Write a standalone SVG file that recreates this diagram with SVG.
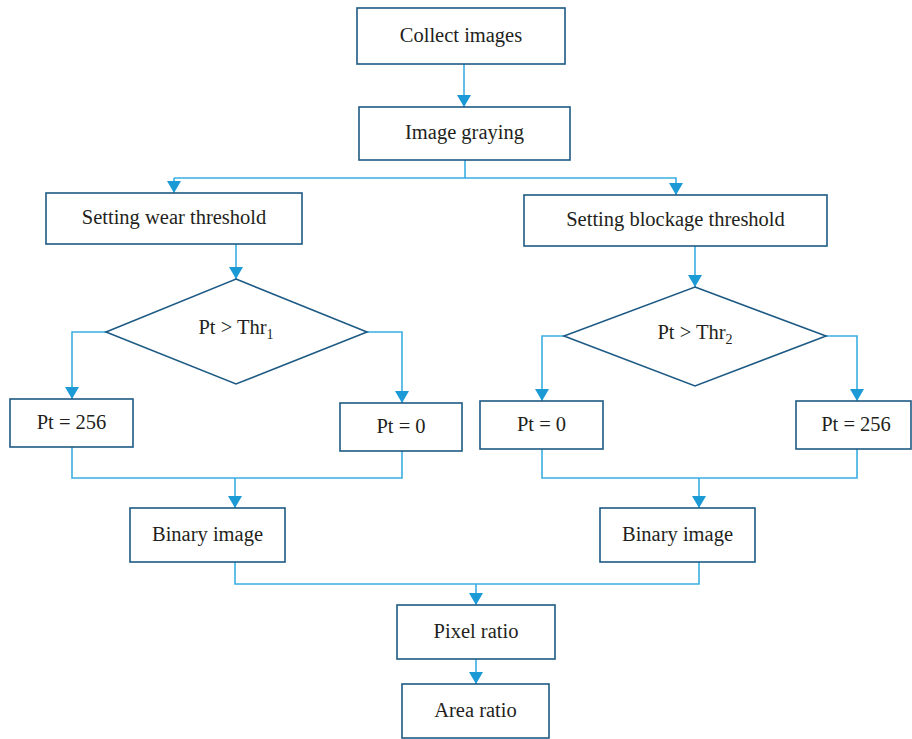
<svg xmlns="http://www.w3.org/2000/svg" width="912" height="739" viewBox="0 0 912 739">
<defs>
<marker id="ah" markerWidth="12" markerHeight="14" refX="12" refY="7" orient="auto" markerUnits="userSpaceOnUse" viewBox="0 0 12 14">
<path d="M0,0 L12,7 L0,14 Z" fill="#1c9ad6"/>
</marker>
<style>
.box{fill:#fff;stroke:#1d5a84;stroke-width:1.6}
.t{font-family:"Liberation Serif","Times New Roman",serif;font-size:20.5px;fill:#231f20;text-anchor:middle}
.c{fill:none;stroke:#3aaee2;stroke-width:1.6}
.a{fill:none;stroke:#3aaee2;stroke-width:1.6;marker-end:url(#ah)}
</style>
</defs>
<rect width="912" height="739" fill="#fff"/>
<g id="connectors">
<line class="a" x1="464" y1="64" x2="464" y2="107"/>
<polyline class="c" points="465,160 465,178 174,178"/>
<polyline class="a" points="174,178 174,193"/>
<polyline class="a" points="465,178 676,178 676,195"/>
<line class="a" x1="236" y1="244" x2="236" y2="279"/>
<polyline class="a" points="106,332 72,332 72,399"/>
<polyline class="a" points="367,332 402,332 402,403"/>
<polyline class="c" points="72,447 72,478 402,478 402,451"/>
<line class="a" x1="235" y1="478" x2="235" y2="508"/>
<line class="a" x1="695" y1="246" x2="695" y2="287"/>
<polyline class="a" points="564,336 542,336 542,401"/>
<polyline class="a" points="826,336 857,336 857,401"/>
<polyline class="c" points="542,449 542,478 857,478 857,449"/>
<line class="a" x1="699" y1="478" x2="699" y2="508"/>
<polyline class="c" points="235,562 235,584 699,584 699,562"/>
<line class="a" x1="476" y1="584" x2="476" y2="605"/>
<line class="a" x1="476" y1="659" x2="476" y2="684"/>
</g>
<g id="collect">
<rect class="box" x="357" y="8" width="208" height="56"/>
<text class="t" x="461" y="42">Collect images</text>
</g>
<g id="graying">
<rect class="box" x="359" y="107" width="211" height="53"/>
<text class="t" x="464.5" y="139">Image graying</text>
</g>
<g id="wear">
<rect class="box" x="46" y="193" width="256" height="51"/>
<text class="t" x="174" y="224">Setting wear threshold</text>
</g>
<g id="blockage">
<rect class="box" x="524" y="195" width="303" height="51"/>
<text class="t" x="675.5" y="226">Setting blockage threshold</text>
</g>
<g id="dec1">
<polygon class="box" points="236,279 367,332 236,384 106,332"/>
<text class="t" x="236" y="334">Pt &gt; Thr<tspan font-size="14" dy="5">1</tspan></text>
</g>
<g id="dec2">
<polygon class="box" points="695,287 826,336 695,386 564,336"/>
<text class="t" x="695" y="339">Pt &gt; Thr<tspan font-size="14" dy="5">2</tspan></text>
</g>
<g id="l256">
<rect class="box" x="10" y="399" width="123" height="48"/>
<text class="t" x="71.5" y="429">Pt = 256</text>
</g>
<g id="l0">
<rect class="box" x="340" y="403" width="122" height="48"/>
<text class="t" x="401" y="433">Pt = 0</text>
</g>
<g id="r0">
<rect class="box" x="480" y="401" width="123" height="48"/>
<text class="t" x="541.5" y="431">Pt = 0</text>
</g>
<g id="r256">
<rect class="box" x="796" y="401" width="115" height="48"/>
<text class="t" x="856" y="431">Pt = 256</text>
</g>
<g id="bin1">
<rect class="box" x="130" y="508" width="155" height="54"/>
<text class="t" x="207.5" y="541">Binary image</text>
</g>
<g id="bin2">
<rect class="box" x="600" y="508" width="155" height="54"/>
<text class="t" x="677.5" y="541">Binary image</text>
</g>
<g id="pixel">
<rect class="box" x="397" y="605" width="158" height="54"/>
<text class="t" x="476" y="638">Pixel ratio</text>
</g>
<g id="area">
<rect class="box" x="402" y="684" width="147" height="54"/>
<text class="t" x="475.5" y="717">Area ratio</text>
</g>
</svg>
